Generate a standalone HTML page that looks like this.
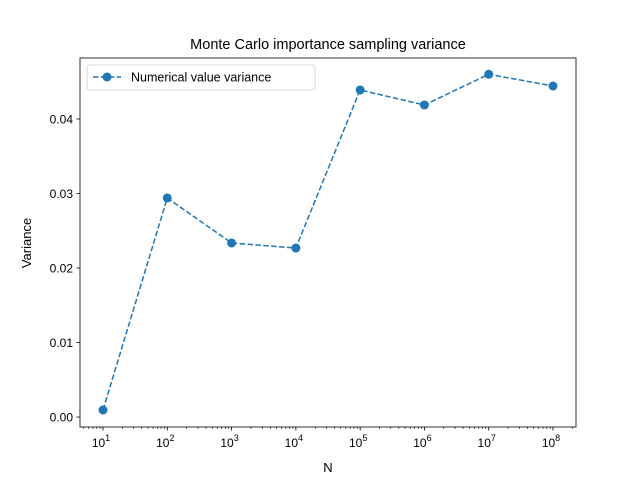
<!DOCTYPE html>
<html><head><meta charset="utf-8"><style>body{margin:0;background:#fff}svg{font-family:"Liberation Sans","DejaVu Sans",sans-serif}</style></head>
<body>
<svg id="chart" width="640" height="480" xmlns="http://www.w3.org/2000/svg">
<rect width="640" height="480" fill="#fff"/>
<text x="328" y="49" text-anchor="middle" font-size="14.5">Monte Carlo importance sampling variance</text>
<g id="ticks"></g>
<path id="line" fill="none" stroke="#1f77b4" stroke-width="1.5" stroke-dasharray="5.5,2.4"/>
<g id="pts"></g>
<rect x="80" y="58" width="496" height="369" fill="none" stroke="#000" stroke-width="0.8"/>
<text x="328" y="472" text-anchor="middle" font-size="13">N</text>
<text transform="translate(31,243) rotate(-90)" text-anchor="middle" font-size="13">Variance</text>
<g>
<rect x="87" y="65" width="228" height="25" rx="3" fill="#fff" stroke="#ccc" stroke-width="0.8"/>
<line x1="93" y1="77" x2="121" y2="77" stroke="#1f77b4" stroke-width="1.5" stroke-dasharray="5.5,2.4"/>
<circle cx="107" cy="77" r="4.5" fill="#1f77b4"/>
<text x="131" y="81.5" font-size="12.5">Numerical value variance</text>
</g>
</svg>
<script>
const exponents=[1,2,3,4,5,6,7,8];
const variances=[0.00094,0.0294,0.02336,0.02268,0.0439,0.04188,0.0460,0.04443];
const yTicks=[0,0.01,0.02,0.03,0.04];
const yLabels=["0.00","0.01","0.02","0.03","0.04"];
const NS="http://www.w3.org/2000/svg";
const xs=e=>103+(e-1)*64.286;
const ys=v=>417-v*7450;
function mk(t,a,p){const el=document.createElementNS(NS,t);for(const k in a)el.setAttribute(k,a[k]);p.appendChild(el);return el;}
const tk=document.getElementById('ticks');
exponents.forEach(e=>{const x=xs(e);
 mk('line',{x1:x,y1:427,x2:x,y2:430.5,stroke:'#000','stroke-width':0.8},tk);
 const t=mk('text',{x:x-2,y:447,'text-anchor':'middle','font-size':12},tk);
 
 
 t.innerHTML='10<tspan dy="-6" font-size="9">'+e+'</tspan>';});
for(let e=0;e<=8;e++)for(let m=2;m<10;m++){const x=xs(e+Math.log10(m));if(x>80&&x<576)mk('line',{x1:x,y1:427,x2:x,y2:429,stroke:'#000','stroke-width':0.6},tk);}
yTicks.forEach((v,i)=>{const y=ys(v);
 mk('line',{x1:76.5,y1:y,x2:80,y2:y,stroke:'#000','stroke-width':0.8},tk);
 const t=mk('text',{x:73,y:y+4.5,'text-anchor':'end','font-size':12},tk);
 
 
 t.textContent=yLabels[i];});
document.getElementById('line').setAttribute('d',exponents.map((e,i)=>(i?'L':'M')+xs(e)+','+ys(variances[i])).join(''));
const pg=document.getElementById('pts');
exponents.forEach((e,i)=>{const c=mk('circle',{cx:xs(e),cy:ys(variances[i]),r:4.5,fill:'#1f77b4'},pg);
 
 });
</script>
</body></html>
